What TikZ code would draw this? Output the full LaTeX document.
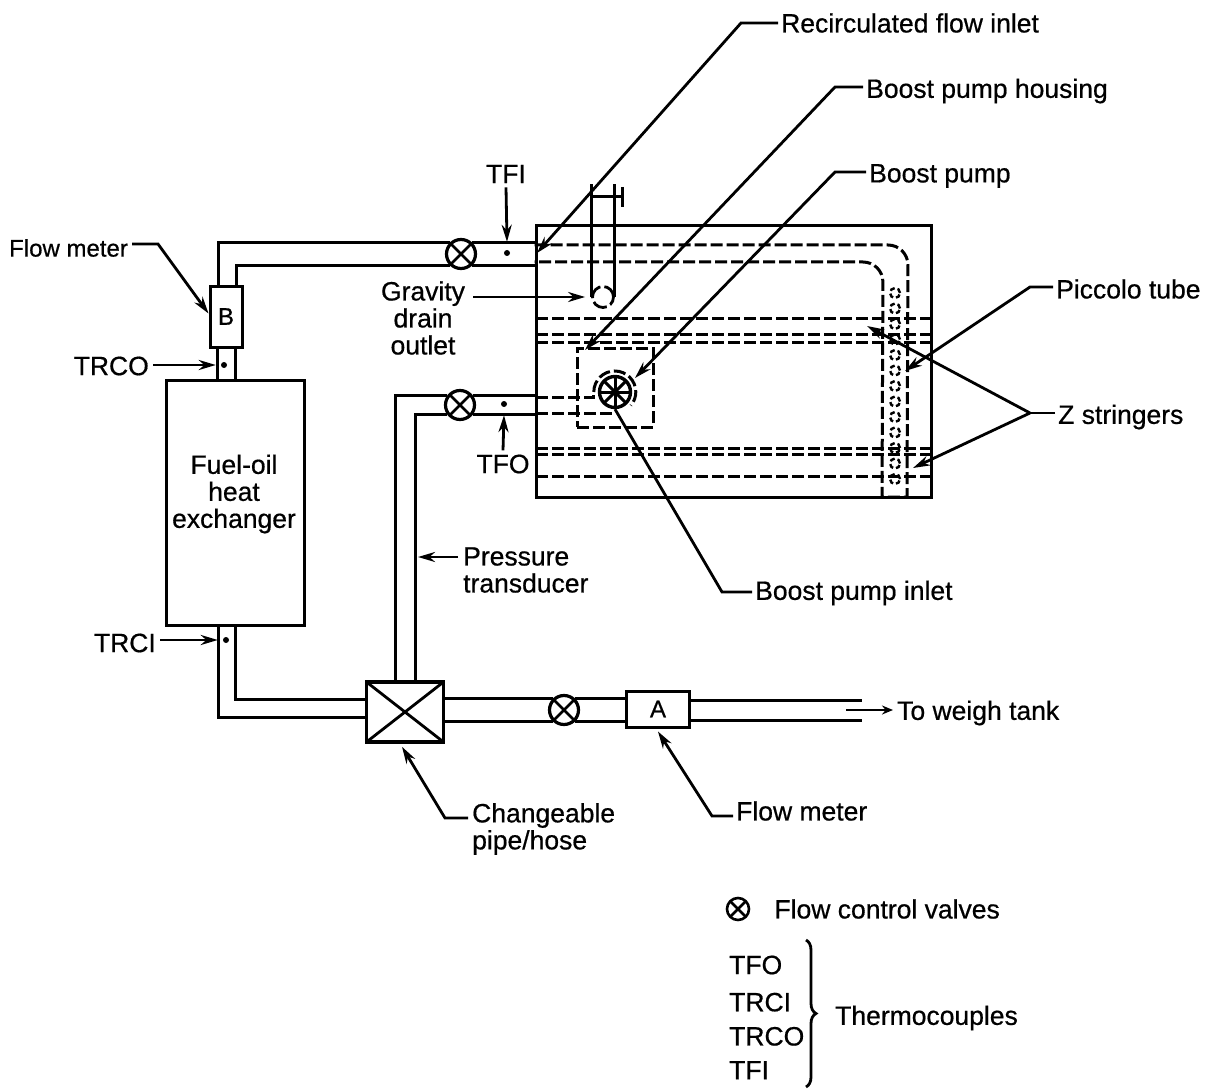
\documentclass[tikz,border=0pt]{standalone}
\usepackage{fontspec}
\setmainfont[FakeBold=0.6]{Liberation Sans}
\usetikzlibrary{arrows.meta, positioning, calc, decorations.pathreplacing}

\begin{document}
\begin{tikzpicture}[
    x=1pt, y=-1pt,
    % styles
    label_text/.style={
        inner sep=0pt, font=\fontsize{26.5}{27}\selectfont, align=center
    },
    pipe_line/.style={
        draw=black, line width=3pt
    },
    leader_line/.style={
        -{Stealth[length=17pt,width=10pt]}, draw=black, line width=2.8pt
    },
    plain_leader/.style={
        draw=black, line width=2.8pt
    },
    hidden_line/.style={
        draw=black, line width=3pt, dash pattern=on 12pt off 4pt
    },
    meter_box/.style={
        draw=black, fill=white, line width=3pt, minimum width=#1, inner sep=0pt,
        font=\fontsize{24}{26}\selectfont
    },
    crossed/.style={
        path picture={
            \draw[line width=2.8pt] (path picture bounding box.north west) -- (path picture bounding box.south east);
            \draw[line width=2.8pt] (path picture bounding box.north east) -- (path picture bounding box.south west);
        }
    },
    valve_symbol/.style={
        circle, draw=black, fill=white, line width=3.2pt, minimum size=29pt, inner sep=0pt, crossed
    },
    probe_dot/.style={
        circle, fill=black, minimum size=6pt, inner sep=0pt
    },
    tube_hole/.style={
        circle, draw=black, line width=2.4pt, dash pattern=on 5pt off 3pt, minimum size=10pt, inner sep=0pt
    }
]
    \useasboundingbox (0,0) rectangle (1212,1091);
    \fill[white] (0,0) rectangle (1212,1091);

    % --- 1. TEST TANK ---
    \node[draw=black, line width=3pt, minimum width=395pt, minimum height=272pt, inner sep=0pt] (test_tank) at (733.5,361.5) {};
    \node[draw=black, hidden_line, minimum width=76pt, minimum height=79pt, inner sep=0pt] (pump_housing) at (615,387.5) {};

    % Z stringers
    \coordinate (stringer_a) at (536,318);
    \coordinate (stringer_b) at (536,334);
    \coordinate (stringer_c) at (536,342);
    \coordinate (stringer_d) at (536,448);
    \coordinate (stringer_e) at (536,454);
    \coordinate (stringer_f) at (536,476);
    \draw[hidden_line] (stringer_a) -- (stringer_a -| test_tank.east);
    \draw[hidden_line] (stringer_b) -- (stringer_b -| test_tank.east);
    \draw[hidden_line] (stringer_c) -- (stringer_c -| test_tank.east);
    \draw[hidden_line] (stringer_d) -- (stringer_d -| test_tank.east);
    \draw[hidden_line] (stringer_e) -- (stringer_e -| test_tank.east);
    \draw[hidden_line] (stringer_f) -- (stringer_f -| test_tank.east);

    % Piccolo tube
    \coordinate (piccolo_outer_bend) at (908,245);
    \coordinate (piccolo_inner_bend) at (883,262);
    \coordinate (piccolo_outer_end) at (907,497);
    \coordinate (piccolo_inner_end) at (882,497);
    \draw[hidden_line] (test_tank.west |- piccolo_outer_bend) [rounded corners=20pt] -- (piccolo_outer_bend) [sharp corners] -- (piccolo_outer_end) -- (piccolo_inner_end) [rounded corners=20pt] -- (piccolo_inner_bend) [sharp corners] -- (test_tank.west |- piccolo_inner_bend);
    \foreach \holey in {293,308.5,324,339.5,355,370.5,386,401.5,417,432.5,448,463.5,479} {
        \node[tube_hole] at (895,\holey) {};
    }

    % Gravity drain
    \node[circle, draw=black, line width=2.8pt, dash pattern=on 15pt off 4pt, minimum size=21pt, inner sep=0pt] (gravity_port) at (603,297) {};
    \coordinate (gravity_top) at (603,184);
    \coordinate (gravity_bar) at (603,197);
    \coordinate (gravity_cap) at (622,197);
    \draw[pipe_line] (gravity_port.west) -- (gravity_port.west |- gravity_top);
    \draw[pipe_line] (gravity_port.east) -- (gravity_port.east |- gravity_top);
    \draw[pipe_line] (gravity_port.west |- gravity_bar) -- (gravity_cap);
    \draw[pipe_line] ([yshift=10pt]gravity_cap) -- ([yshift=-10pt]gravity_cap);

    % Boost pump
    \node[circle, draw=black, line width=3.4pt, minimum size=31pt, inner sep=0pt, path picture={
        \draw[line width=3pt] (path picture bounding box.north) -- (path picture bounding box.south);
        \draw[line width=3pt] (path picture bounding box.west) -- (path picture bounding box.east);
        \draw[line width=3pt] (path picture bounding box.north west) -- (path picture bounding box.south east);
        \draw[line width=3pt] (path picture bounding box.north east) -- (path picture bounding box.south west);
    }] (boost_pump) at (615,392) {};
    \node[circle, minimum size=42pt, inner sep=0pt] (pump_ring) at (615,392) {};
    \draw[hidden_line] (pump_ring.180) arc[start angle=180, end angle=-40, radius=21pt];
    \coordinate (pump_feed_upper) at (536,397);
    \coordinate (pump_feed_lower) at (536,413);
    \draw[hidden_line] (pump_feed_upper) -- (pump_feed_upper -| pump_ring.west) -- (pump_ring.180);
    \draw[hidden_line] (pump_feed_lower) -- (pump_feed_lower -| boost_pump.south);

    % --- 2. PIPE RUN ---
    \node[valve_symbol] (valve_tfi) at (461,254) {};
    \node[valve_symbol] (valve_tfo) at (460,405) {};
    \node[valve_symbol] (valve_out) at (564,710) {};
    \node[meter_box=32pt, minimum height=61pt] (meter_b) at (226,316.5) {B};
    \node[draw=black, line width=3pt, minimum width=138pt, minimum height=245pt, inner sep=0pt] (heat_exchanger) at (235,502.5) {};
    \node[draw=black, line width=3.6pt, fill=white, minimum width=77pt, minimum height=60pt, inner sep=0pt, crossed] (change_box) at (405,712) {};
    \node[meter_box=63pt, minimum height=36pt] (meter_a) at (658,709) {A};

    \draw[pipe_line] (valve_tfi.135) -| ([xshift=-8pt]meter_b.north);
    \draw[pipe_line] (valve_tfi.225) -| ([xshift=10pt]meter_b.north);
    \draw[pipe_line] (valve_tfi.45) -- (valve_tfi.45 -| test_tank.west);
    \draw[pipe_line] (valve_tfi.-45) -- (valve_tfi.-45 -| test_tank.west);
    \draw[pipe_line] ([xshift=-9pt]meter_b.south) -- ([xshift=-9pt]meter_b.south |- heat_exchanger.north);
    \draw[pipe_line] ([xshift=9pt]meter_b.south) -- ([xshift=9pt]meter_b.south |- heat_exchanger.north);

    \draw[pipe_line] (valve_tfo.145) -| ([xshift=-10pt]change_box.north);
    \draw[pipe_line] (valve_tfo.215) -| ([xshift=10pt]change_box.north);
    \draw[pipe_line] (valve_tfo.35) -- (valve_tfo.35 -| test_tank.west);
    \draw[pipe_line] (valve_tfo.-35) -- (valve_tfo.-35 -| test_tank.west);

    \draw[pipe_line] ([xshift=-17pt]heat_exchanger.south) |- ([yshift=-5pt]change_box.west);
    \draw[pipe_line] (heat_exchanger.south) |- ([yshift=13pt]change_box.west);
    \draw[pipe_line] (valve_out.135) -- (valve_out.135 -| change_box.east);
    \draw[pipe_line] (valve_out.225) -- (valve_out.225 -| change_box.east);
    \draw[pipe_line] (valve_out.45) -- (valve_out.45 -| meter_a.west);
    \draw[pipe_line] (valve_out.-45) -- (valve_out.-45 -| meter_a.west);

    \coordinate (weigh_upper) at (862,700);
    \coordinate (weigh_lower) at (862,720);
    \draw[pipe_line] (weigh_upper -| meter_a.east) -- (weigh_upper);
    \draw[pipe_line] (weigh_lower -| meter_a.east) -- (weigh_lower);

    % --- 3. THERMOCOUPLES ---
    \node[probe_dot] (dot_tfi) at (507,253) {};
    \node[probe_dot] (dot_tfo) at (504,404) {};
    \node[probe_dot] (dot_trco) at (224,365) {};
    \node[probe_dot] (dot_trci) at (226,640) {};

    \node[label_text] (tfi_label) at (506,174) {TFI};
    \node[label_text] (tfo_label) at (503,464) {TFO};
    \node[label_text, anchor=east] (trco_label) at (149,366) {TRCO};
    \node[label_text, anchor=east] (trci_label) at (156,643) {TRCI};
    \draw[leader_line] ([yshift=-4pt]tfi_label.south) -- ([yshift=8pt]dot_tfi.north);
    \draw[leader_line] ([yshift=4pt]tfo_label.north) -- ([yshift=-8pt]dot_tfo.south);
    \draw[leader_line] ([xshift=4pt]trco_label.east |- dot_trco) -- ([xshift=-5pt]dot_trco.west);
    \draw[leader_line] ([xshift=4pt]trci_label.east |- dot_trci) -- ([xshift=-5pt]dot_trci.west);

    % --- 4. LABELS ---
    \node[label_text, anchor=west] (recirc_label) at (781,23) {Recirculated flow inlet};
    \node[label_text, anchor=west] (housing_label) at (866,91) {Boost pump housing};
    \node[label_text, anchor=west] (pump_label) at (869,176) {Boost pump};
    \node[label_text, anchor=west] (piccolo_label) at (1056,289) {Piccolo tube};
    \node[label_text, anchor=west] (stringer_label) at (1058,417) {Z stringers};
    \node[label_text, anchor=west] (inlet_label) at (755,593) {Boost pump inlet};
    \node[label_text, anchor=west, font=\fontsize{24}{26}\selectfont] (meter_top_label) at (9,248) {Flow meter};
    \node[label_text, anchor=west] (meter_low_label) at (736,811) {Flow meter};
    \node[label_text, anchor=west] (weigh_label) at (897,713) {To weigh tank};
    \node[label_text] (gravity_label) at (423,318) {Gravity\\drain\\outlet};
    \node[label_text] (exchanger_label) at (234,494) {Fuel-oil\\heat\\exchanger};
    \node[label_text, align=left, anchor=west] (pressure_label) at (463,570) {Pressure\\transducer};
    \node[label_text, align=left, anchor=west] (change_label) at (472,829) {Changeable\\pipe/hose};

    \coordinate (recirc_bend) at (741,23);
    \coordinate (housing_bend) at (835,87);
    \coordinate (pump_bend) at (835,172);
    \coordinate (inlet_bend) at (722,592);
    \coordinate (piccolo_bend) at (1030,287);
    \coordinate (stringer_bend) at (1030,413);
    \coordinate (meter_top_bend) at (158,244);
    \coordinate (change_bend) at (445,818);
    \coordinate (meter_low_bend) at (712,816);
    \coordinate (recirc_tip) at (537,253);
    \coordinate (housing_tip) at (585,350);
    \coordinate (pump_tip) at (635,378);
    \coordinate (piccolo_tip) at (905,371);
    \coordinate (stringer_tip_a) at (867,326);
    \coordinate (stringer_tip_b) at (913,468);
    \coordinate (gravity_start) at (473,297);

    \draw[leader_line] ([xshift=-3pt]recirc_label.west |- recirc_bend) -- (recirc_bend) -- (recirc_tip);
    \draw[leader_line] ([xshift=-3pt]housing_label.west |- housing_bend) -- (housing_bend) -- (housing_tip);
    \draw[leader_line] ([xshift=-3pt]pump_label.west |- pump_bend) -- (pump_bend) -- (pump_tip);
    \draw[plain_leader] ([xshift=-3pt]inlet_label.west |- inlet_bend) -- (inlet_bend) -- (boost_pump.south);
    \draw[leader_line] ([xshift=-3pt]piccolo_label.west |- piccolo_bend) -- (piccolo_bend) -- (piccolo_tip);
    \draw[plain_leader] ([xshift=-3pt]stringer_label.west |- stringer_bend) -- (stringer_bend);
    \draw[leader_line] (stringer_bend) -- (stringer_tip_a);
    \draw[leader_line] (stringer_bend) -- (stringer_tip_b);
    \draw[leader_line] ([xshift=4pt]meter_top_label.east |- meter_top_bend) -- (meter_top_bend) -- ([yshift=3pt]meter_b.west);
    \draw[leader_line] (gravity_start) -- ([xshift=-6pt]gravity_port.west);
    \draw[leader_line] ([xshift=-5pt,yshift=13pt]pressure_label.west) -- ++(-40,0);
    \draw[leader_line] ([xshift=-4pt]change_label.west |- change_bend) -- (change_bend) -- ([yshift=-3pt,xshift=-3pt]change_box.south);
    \draw[leader_line] ([xshift=-3pt]meter_low_label.west |- meter_low_bend) -- (meter_low_bend) -- ([yshift=-3pt]meter_a.south);
    \draw[leader_line, -{Stealth[length=11pt,width=9pt]}] (846,710) -- ([xshift=-4pt]weigh_label.west |- 846,710);

    % --- 5. KEY ---
    \node[valve_symbol, minimum size=22pt, line width=2.6pt] (key_valve) at (738,909) {};
    \node[label_text, right=24pt of key_valve] (key_valve_label) {Flow control valves};
    \node[label_text, anchor=west] (key_tfo) at (729,965) {TFO};
    \node[label_text, below=18pt of key_tfo.south west, anchor=north west] (key_trci) {TRCI};
    \node[label_text, below=15pt of key_trci.south west, anchor=north west] (key_trco) {TRCO};
    \node[label_text, below=15pt of key_trco.south west, anchor=north west] (key_tfi) {TFI};
    \coordinate (brace_top) at (806,940);
    \coordinate (brace_bot) at (806,1087);
    \draw[line width=2.8pt, decorate, decoration={brace, amplitude=10pt}] (brace_top) -- (brace_bot);
    \node[label_text, anchor=west] (thermo_label) at (835,1018) {Thermocouples};

\end{tikzpicture}
\end{document}
